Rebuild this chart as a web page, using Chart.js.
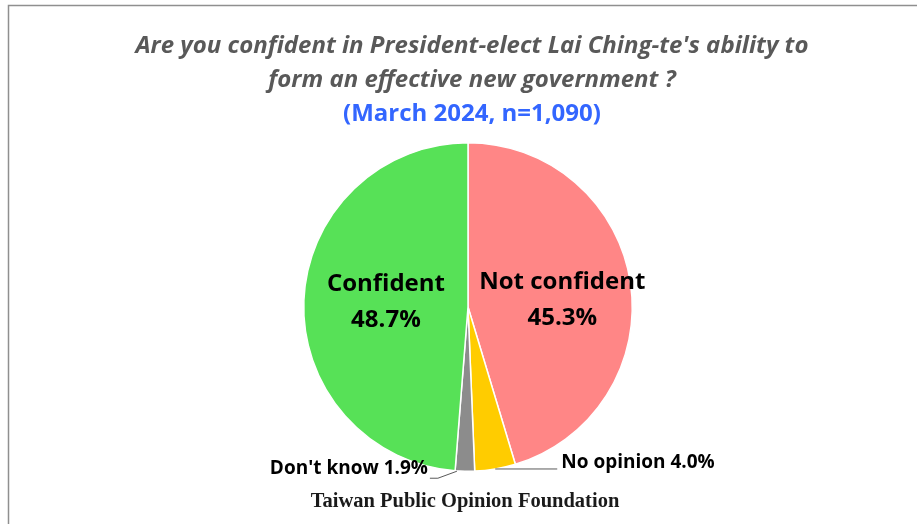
<!DOCTYPE html>
<html>
<head>
<meta charset="utf-8">
<script src="https://cdn.jsdelivr.net/npm/chart.js@4/dist/chart.umd.min.js"></script>
<style>
  html, body { margin: 0; padding: 0; background: #fff; }
  #wrap { width: 917px; height: 524px; position: relative; }
</style>
</head>
<body>
<div id="wrap"><canvas id="grafico-confianca"></canvas></div>
<script>
// DADOS
const categorias = ['Not confident', 'No opinion', "Don't know", 'Confident']
const valores = [45.3, 4.0, 1.9, 48.7]
const cores = ['#FF8686', '#FFCC00', '#8C8C8C', '#57E157']

const tituloLinhas = ["Are you confident in President-elect Lai Ching-te's ability to", 'form an effective new government ?']
const subtitulo = '(March 2024, n=1,090)'
const fonte = 'Taiwan Public Opinion Foundation'

const FONTE_SANS = '"Open Sans", Lato, sans-serif'

// desenha titulo, moldura e rotulos
const textosPlugin = {
    id: 'textos',
    beforeDraw(chart) {
        const ctx = chart.ctx
        ctx.save()
        ctx.fillStyle = '#ffffff'
        ctx.fillRect(0, 0, chart.width, chart.height)
        ctx.strokeStyle = '#8f8f8f'
        ctx.lineWidth = 1.5
        ctx.beginPath()
        ctx.moveTo(8.5, chart.height + 5)
        ctx.lineTo(8.5, 5.5)
        ctx.lineTo(chart.width + 5, 5.5)
        ctx.stroke()
        ctx.restore()
    },
    afterDraw(chart) {
        const ctx = chart.ctx
        const meta = chart.getDatasetMeta(0)
        ctx.save()
        ctx.textAlign = 'center'
        ctx.textBaseline = 'middle'

        // titulo
        ctx.fillStyle = '#595959'
        ctx.font = 'italic bold 24px ' + FONTE_SANS
        ctx.fillText(tituloLinhas[0], 472, 46)
        ctx.fillText(tituloLinhas[1], 472, 80)
        ctx.fillStyle = '#3366FF'
        ctx.font = 'bold 24px ' + FONTE_SANS
        ctx.fillText(subtitulo, 472, 114)

        // rotulos dentro das fatias
        ctx.fillStyle = '#000000'
        ctx.font = 'bold 24px ' + FONTE_SANS
        const fatorRaio = [0.58, 0, 0, 0.5]
        const ajusteY = [-11, 0, 0, -20]
        ;[0, 3].forEach(function(i) {
            const arc = meta.data[i]
            const meio = (arc.startAngle + arc.endAngle) / 2
            const r = arc.outerRadius * fatorRaio[i]
            const x = arc.x + Math.cos(meio) * r
            const y = arc.y + Math.sin(meio) * r
            ctx.fillText(categorias[i], x, y + ajusteY[i])
            ctx.fillText(valores[i].toFixed(1) + '%', x, y + ajusteY[i] + 36)
        })

        // rotulos externos com linha
        ctx.font = 'bold 19px ' + FONTE_SANS
        ctx.strokeStyle = '#595959'
        ctx.lineWidth = 1
        // No opinion
        let arc = meta.data[1]
        let meio = (arc.startAngle + arc.endAngle) / 2
        let px = arc.x + Math.cos(meio) * arc.outerRadius
        let py = arc.y + Math.sin(meio) * arc.outerRadius
        ctx.beginPath()
        ctx.moveTo(px, py)
        ctx.lineTo(px + 62, py)
        ctx.stroke()
        ctx.textAlign = 'left'
        ctx.fillText(categorias[1] + ' ' + valores[1].toFixed(1) + '%', px + 66, py - 6)
        // Don't know
        arc = meta.data[2]
        meio = (arc.startAngle + arc.endAngle) / 2
        px = arc.x + Math.cos(meio) * arc.outerRadius
        py = arc.y + Math.sin(meio) * arc.outerRadius
        ctx.beginPath()
        ctx.moveTo(px - 8, py)
        ctx.lineTo(px - 27, py + 7)
        ctx.lineTo(px - 35, py + 7)
        ctx.stroke()
        ctx.textAlign = 'right'
        ctx.fillText(categorias[2] + ' ' + valores[2].toFixed(1) + '%', px - 37, py - 3)

        // fonte
        ctx.textAlign = 'center'
        ctx.fillStyle = '#1a1a1a'
        ctx.font = 'bold 20.5px "Liberation Serif", serif'
        ctx.fillText(fonte, 465, 502)
        ctx.restore()
    }
}

const ctxPizza = document.getElementById('grafico-confianca').getContext('2d')

const graficoPizza = new Chart(ctxPizza, {
    type: 'pie',
    data: {
        labels: categorias,
        datasets: [{
            data: valores,
            backgroundColor: cores,
            borderColor: '#ffffff',
            borderWidth: 1.5
        }]
    },
    options: {
        responsive: true,
        maintainAspectRatio: false,
        animation: false,
        layout: {
            padding: { top: 142, bottom: 52, left: 200, right: 181 }
        },
        plugins: {
            legend: { display: false },
            tooltip: { enabled: false },
            title: { display: false }
        }
    },
    plugins: [textosPlugin]
})
</script>
</body>
</html>
